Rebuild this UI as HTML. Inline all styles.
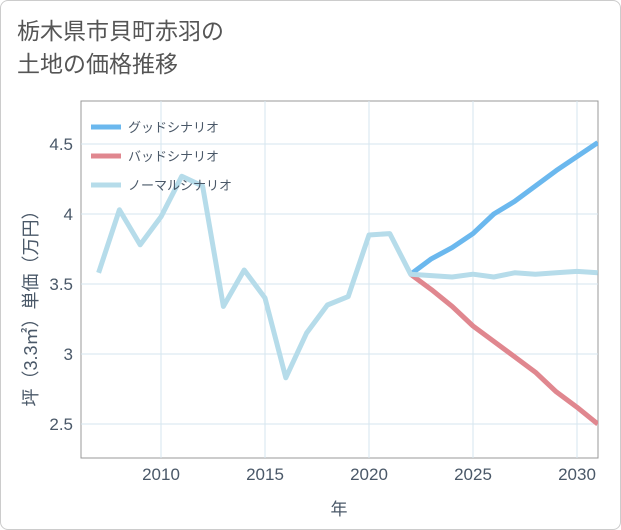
<!DOCTYPE html>
<html><head><meta charset="utf-8"><style>
body{margin:0;background:#fff;font-family:"Liberation Sans","Noto Sans CJK JP",sans-serif;}
#wrap{position:relative;width:619px;height:528px;border:1px solid #ccc;border-radius:8px;overflow:hidden;background:#fff}
#title{position:absolute;left:16px;top:14px;font-size:23px;line-height:33px;color:#555}
svg text{font-family:"Liberation Sans","Noto Sans CJK JP",sans-serif;}
</style></head><body>
<div id="wrap">
<div id="title">栃木県市貝町赤羽の<br>土地の価格推移</div>
<svg id="chart" width="619" height="528" style="position:absolute;left:0;top:0"></svg>
</div>
<script>
const years=[2007,2008,2009,2010,2011,2012,2013,2014,2015,2016,2017,2018,2019,2020,2021,2022,2023,2024,2025,2026,2027,2028,2029,2030,2031];
const normalVals=[3.58,4.03,3.78,3.98,4.27,4.2,3.34,3.6,3.4,2.83,3.15,3.35,3.41,3.85,3.86,3.57,3.56,3.55,3.57,3.55,3.58,3.57,3.58,3.59,3.58];
const futureYears=[2022,2023,2024,2025,2026,2027,2028,2029,2030,2031];
const goodVals=[3.57,3.68,3.76,3.86,4.0,4.09,4.2,4.31,4.41,4.51];
const badVals=[3.57,3.46,3.34,3.2,3.09,2.98,2.87,2.73,2.62,2.5];
const xTicks=[2010,2015,2020,2025,2030];
const yTicks=[2.5,3,3.5,4,4.5];
const legendLabels=["グッドシナリオ","バッドシナリオ","ノーマルシナリオ"];
const colors=["#6bb8ee","#e0878f","#b6dcea"];

const L=80,R=597,T=100,B=457;
const x=v=>160+(v-2010)*20.8;
const y=v=>283-(v-3.5)*140;
const svg=document.getElementById('chart');
const NS='http://www.w3.org/2000/svg';
function mk(tag,attrs,parent){const e=document.createElementNS(NS,tag);for(const k in attrs)e.setAttribute(k,attrs[k]);(parent||svg).appendChild(e);return e;}

const frame=mk('rect',{x:L,y:T,width:R-L,height:B-T,fill:'none',stroke:'#999','stroke-width':1});


xTicks.forEach(t=>{
  const g=mk('line',{x1:x(t),x2:x(t),y1:T,y2:B,stroke:'#d6e6ef'});
  
  
  const lb=mk('text',{x:x(t),y:479,'text-anchor':'middle','font-size':17,fill:'#4a5868'});
  lb.textContent=t;
  
  
});
yTicks.forEach(t=>{
  const g=mk('line',{x1:L,x2:R,y1:y(t),y2:y(t),stroke:'#d6e6ef'});
  
  
  const lb=mk('text',{x:72,y:y(t)+6,'text-anchor':'end','font-size':17,fill:'#4a5868'});
  lb.textContent=t;
  
  
});
const xt=mk('text',{x:338,y:514,'text-anchor':'middle','font-size':17,fill:'#4a5868'});
xt.textContent='年';


const yt=mk('text',{x:0,y:0,'text-anchor':'middle','font-size':18,fill:'#4a5868',transform:'translate(36,303) rotate(-90)'});
yt.textContent='坪（3.3㎡）単価（万円）';



const clip=mk('clipPath',{id:'cp'});mk('rect',{x:L,y:T,width:R-L,height:B-T},clip);
function line(xs,vs,c,name){
  const p=mk('polyline',{points:xs.map((v,i)=>x(v)+','+y(vs[i])).join(' '),fill:'none',stroke:c,'stroke-width':5,'stroke-linejoin':'round','clip-path':'url(#cp)'});
  
  
}
line(futureYears,goodVals,colors[0],'good-scenario-line');
line(futureYears,badVals,colors[1],'bad-scenario-line');
line(years,normalVals,colors[2],'normal-scenario-line');

legendLabels.forEach((s,i)=>{
  const yy=126+i*29;
  const l=mk('line',{x1:90,x2:120,y1:yy,y2:yy,stroke:colors[i],'stroke-width':5});
  
  
  const tx=mk('text',{x:127,y:yy+5,'font-size':13,fill:'#4a5868'});
  tx.textContent=s;
  
  
});
</script>
</body></html>
